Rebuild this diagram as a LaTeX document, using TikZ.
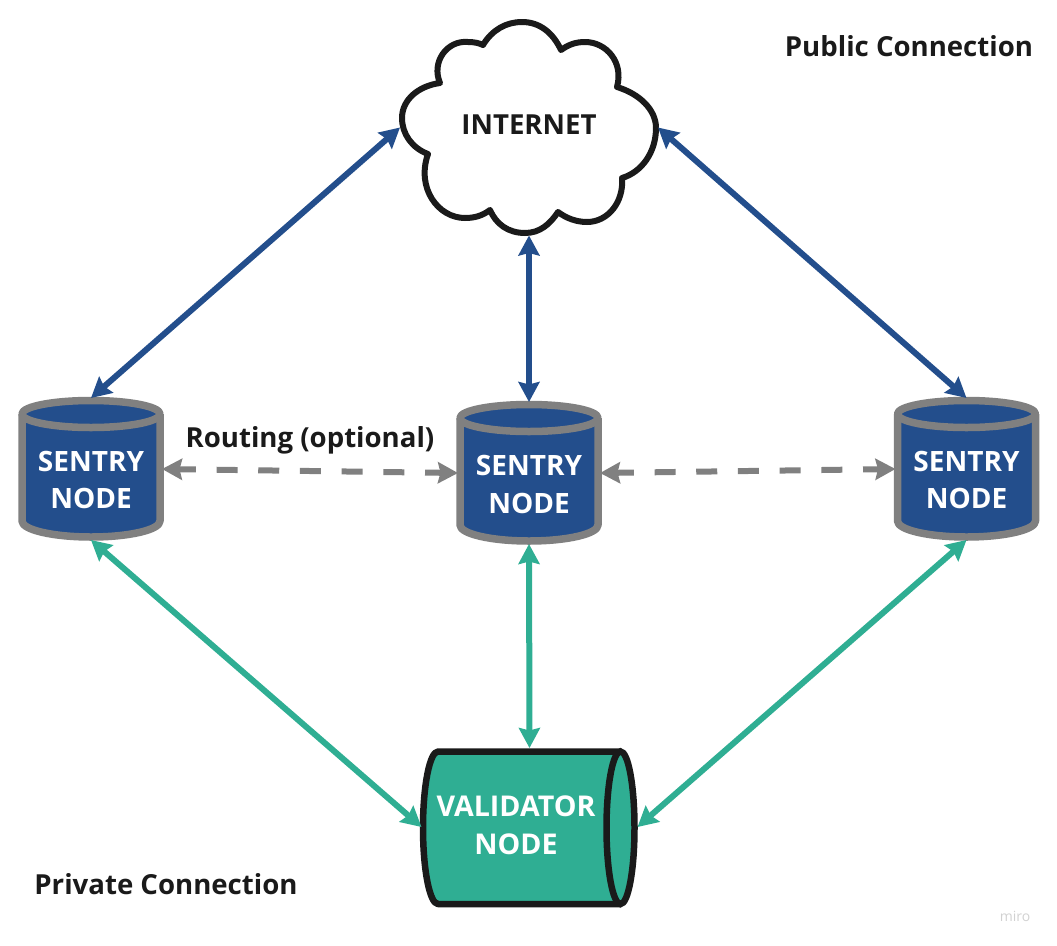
\documentclass[tikz,border=0pt]{standalone}
\usepackage{fontspec}
\setmainfont{Open Sans}
\usetikzlibrary{arrows.meta}
\definecolor{nodeblue}{HTML}{234E8C}
\definecolor{nodegreen}{HTML}{2FAE93}
\definecolor{nodegray}{HTML}{808080}
\definecolor{inkblack}{HTML}{1A1A1A}
\tikzset{
  anchorbox/.style={inner sep=0pt,outer sep=0pt,minimum width=#1},
  anchorbox/.default=142pt,
  nodelabel/.style={text=white,font=\fontsize{28}{37.5}\selectfont\bfseries,align=center,inner sep=0pt},
  caption/.style={text=inkblack,font=\fontsize{27.6}{32}\selectfont\bfseries,inner sep=0pt},
  cylblue/.style={draw=nodegray,fill=nodeblue,line width=7.5pt,line join=round},
  link/.style={line width=6pt,{Stealth[length=20pt,width=21pt,inset=2.5pt]}-{Stealth[length=20pt,width=21pt,inset=2.5pt]}},
  publiclink/.style={link,draw=nodeblue},
  privatelink/.style={link,draw=nodegreen},
  routelink/.style={link,draw=nodegray,dash pattern=on 21pt off 20.7pt,dash phase=3.5pt},
}
\newcommand{\sentrycyl}[2]{%
  \begin{scope}[shift={(#1,#2)}]
    \draw[cylblue] (-69,-55) -- (-69,52) arc[start angle=180,end angle=0,x radius=69,y radius=16] -- (69,-55);
    \draw[cylblue] (0,-55) ellipse[x radius=69,y radius=13.5];
  \end{scope}}
\begin{document}
\begin{tikzpicture}[x=1pt,y=-1pt]
\useasboundingbox (0,0) rectangle (1057,945);
% cloud
\draw[draw=inkblack,fill=white,line width=6pt,line join=round]
  (483,45) .. controls (492,30) and (506,22) .. (522,22)
  .. controls (540,22) and (553,33) .. (561,50)
  .. controls (568,45) and (575,42) .. (585,42)
  .. controls (606,42) and (624,62) .. (617,87)
  .. controls (640,94) and (656,110) .. (656,128)
  .. controls (656,152) and (642,172) .. (622,178)
  .. controls (624,202) and (608,222) .. (587,222)
  .. controls (576,222) and (566,218) .. (558,212)
  .. controls (550,224) and (540,233) .. (525,233)
  .. controls (508,233) and (496,224) .. (490,210)
  .. controls (482,216) and (474,218) .. (465,218)
  .. controls (438,218) and (416,188) .. (428,154)
  .. controls (412,148) and (402,134) .. (402,118)
  .. controls (402,100) and (418,86) .. (440,83)
  .. controls (431,62) and (447,40) .. (468,42)
  .. controls (474,42) and (479,43) .. (483,45) -- cycle;
\node[anchorbox=258pt,minimum height=216pt] (cloud) at (529,127.5) {};
\node[text=inkblack,font=\fontsize{27.6}{32}\selectfont\bfseries,inner sep=0pt] (cloudtext) at (529,125) {INTERNET};
% sentries
\sentrycyl{91}{469}
\sentrycyl{529}{473}
\sentrycyl{966.5}{469}
\node[anchorbox,minimum height=142pt] (s1) at (91,469) {};
\node[anchorbox,minimum height=142pt] (s2) at (529,473) {};
\node[anchorbox,minimum height=142pt] (s3) at (966.5,469) {};
\node[nodelabel] (s1text) at (91,480) {SENTRY\\NODE};
\node[nodelabel] (s2text) at (529,484.5) {SENTRY\\NODE};
\node[nodelabel] (s3text) at (966.5,480) {SENTRY\\NODE};
% validator
\draw[draw=inkblack,fill=nodegreen,line width=6.5pt,line join=round]
  (620.5,751.5) -- (438,751.5) arc[start angle=270,end angle=90,x radius=15,y radius=76.25] -- (620.5,904);
\draw[draw=inkblack,fill=nodegreen,line width=6.5pt] (620.5,827.75) ellipse[x radius=14,y radius=76.25];
\node[anchorbox=216pt,minimum height=158pt] (v) at (529.5,827) {};
\node[nodelabel,font=\fontsize{28.6}{38}\selectfont\bfseries] (vtext) at (516,825) {VALIDATOR\\NODE};
% connectors
\draw[publiclink] (cloud.west) -- (s1.north);
\draw[publiclink] (cloud.south) -- (s2.north);
\draw[publiclink] (cloud.east) -- (s3.north);
\draw[routelink] (s1.east) -- (s2.west);
\draw[routelink] (s2.east) -- (s3.west);
\draw[privatelink] (s1.south) -- (v.west);
\draw[privatelink] (s2.south) -- (v.north);
\draw[privatelink] (s3.south) -- (v.east);
% captions
\node[caption] (pub) at (909,46) {Public Connection};
\node[caption] (route) at (310,440.5) {Routing (optional)};
\node[caption] (priv) at (166,884) {Private Connection};
\node[text=black!18,font=\fontsize{14}{15}\selectfont,inner sep=0pt] (miro) at (1015,916) {miro};
\end{tikzpicture}
\end{document}
